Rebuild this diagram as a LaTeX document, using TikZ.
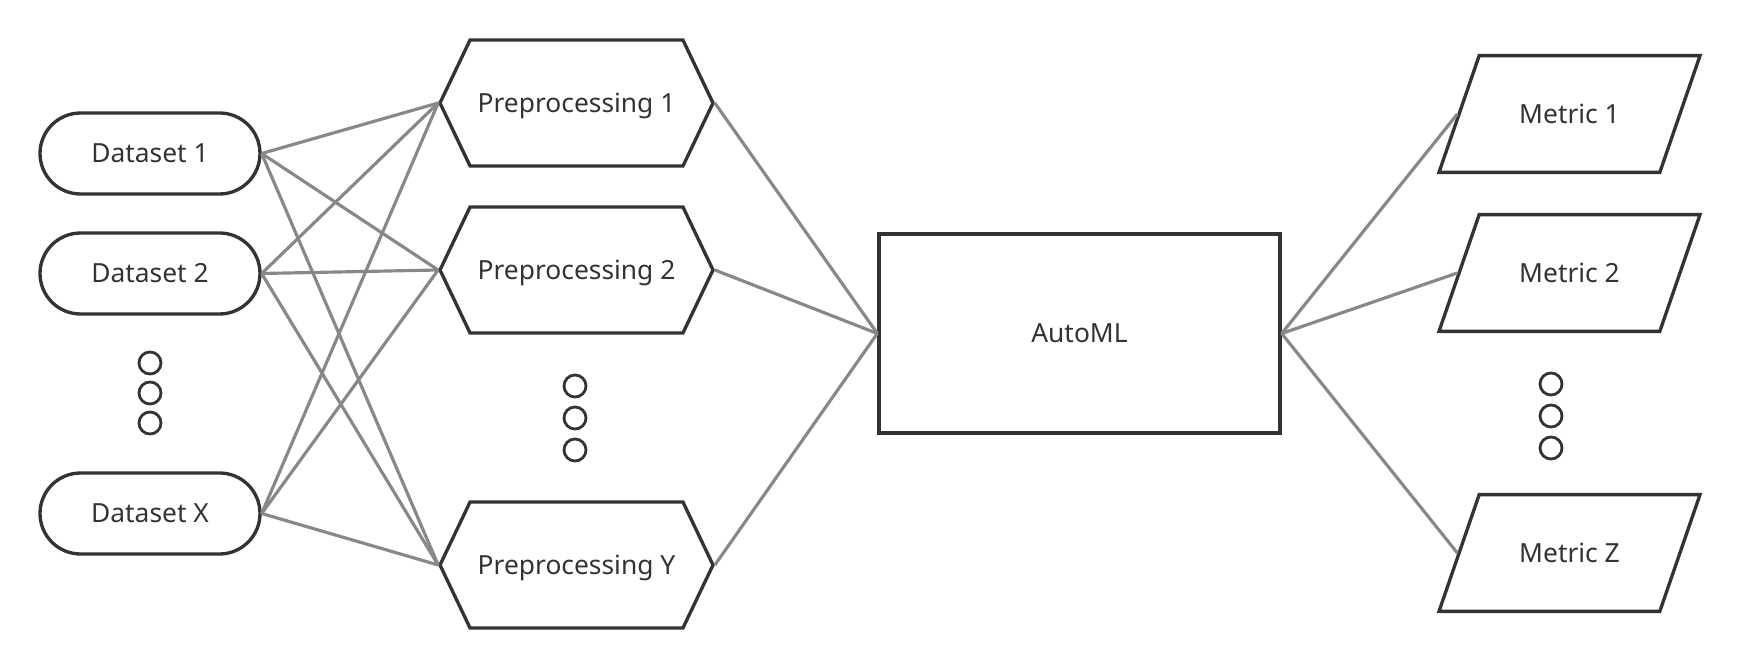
\documentclass[tikz,border=0pt]{standalone}
\usepackage{fontspec}
\setmainfont{Noto Sans}
\usepackage{tikz}
\usetikzlibrary{shapes.geometric, shapes.symbols}

\definecolor{edgegray}{HTML}{888888}
\definecolor{inkdark}{HTML}{333333}

\begin{document}
\begin{tikzpicture}[line width=1.9pt,
        every node/.style={text=inkdark, font=\fontsize{15}{18}\selectfont},
        dataset/.style={draw=inkdark, rectangle, rounded corners=0.81cm, minimum width=4.4cm, minimum height=1.62cm},
        prepbox/.style={draw=inkdark, signal, signal to=west and east, signal pointer angle=129, minimum width=5.46cm, minimum height=2.52cm, inner sep=0pt, text depth=0pt},
        mlbox/.style={draw=inkdark, rectangle, minimum width=8.02cm, minimum height=3.98cm},
        metricbox/.style={draw=inkdark, trapezium, trapezium left angle=71, trapezium right angle=109, trapezium stretches body=true, inner xsep=0pt, inner ysep=0.97cm, minimum width=5.22cm},
        moredot/.style={draw=inkdark, circle, minimum size=0.44cm, inner sep=0pt, line width=1.6pt},
        link/.style={draw=edgegray, line width=1.8pt}]
        \useasboundingbox (0,0) rectangle (34.8,13.36);

        % Datasets (left column)
        \node[dataset] (ds1) at (3.0, 10.29) {Dataset 1};
        \node[dataset] (ds2) at (3.0, 7.89) {Dataset 2};
        \node[dataset] (dsx) at (3.0, 3.09) {Dataset X};
        \node[moredot] (dsdot1) at (3.0, 6.10) {};
        \node[moredot] (dsdot2) at (3.0, 5.50) {};
        \node[moredot] (dsdot3) at (3.0, 4.90) {};

        % Preprocessing steps (hexagons)
        \node[prepbox] (pp1) at (11.53, 11.30) {Preprocessing 1};
        \node[prepbox] (pp2) at (11.53, 7.96) {Preprocessing 2};
        \node[prepbox] (ppy) at (11.53, 2.06) {Preprocessing Y};
        \node[moredot] (ppdot1) at (11.50, 5.64) {};
        \node[moredot] (ppdot2) at (11.50, 5.00) {};
        \node[moredot] (ppdot3) at (11.50, 4.36) {};

        % AutoML in the middle
        \node[mlbox] (automl) at (21.59, 6.69) {AutoML};

        % Metrics (parallelograms)
        \node[metricbox] (m1) at (31.39, 11.08) {Metric 1};
        \node[metricbox] (m2) at (31.39, 7.90) {Metric 2};
        \node[metricbox] (mz) at (31.39, 2.30) {Metric Z};
        \node[moredot] (mdot1) at (31.02, 5.68) {};
        \node[moredot] (mdot2) at (31.02, 5.04) {};
        \node[moredot] (mdot3) at (31.02, 4.40) {};

        % Every dataset goes to every preprocessing step
        \draw[link] (ds1.east) -- (pp1.west);
        \draw[link] (ds1.east) -- (pp2.west);
        \draw[link] (ds1.east) -- (ppy.west);
        \draw[link] (ds2.east) -- (pp1.west);
        \draw[link] (ds2.east) -- (pp2.west);
        \draw[link] (ds2.east) -- (ppy.west);
        \draw[link] (dsx.east) -- (pp1.west);
        \draw[link] (dsx.east) -- (pp2.west);
        \draw[link] (dsx.east) -- (ppy.west);

        % Preprocessing into AutoML
        \draw[link] (pp1.east) -- (automl.west);
        \draw[link] (pp2.east) -- (automl.west);
        \draw[link] (ppy.east) -- (automl.west);

        % AutoML out to the metrics
        \draw[link] (automl.east) -- (m1.west);
        \draw[link] (automl.east) -- (m2.west);
        \draw[link] (automl.east) -- (mz.west);
      \end{tikzpicture}
\end{document}
